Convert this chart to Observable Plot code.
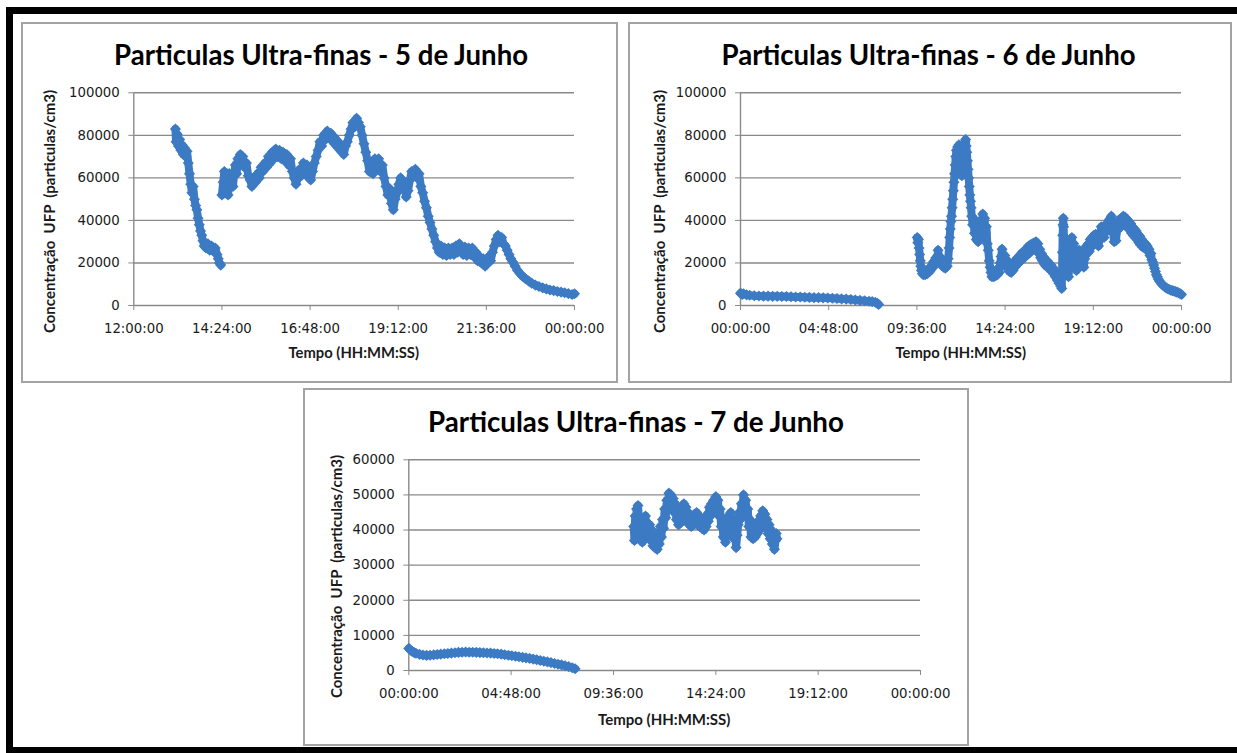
<!DOCTYPE html>
<html>
<head>
<meta charset="utf-8">
<script src="https://cdn.jsdelivr.net/npm/d3@7"></script>
<script src="https://cdn.jsdelivr.net/npm/@observablehq/plot@0.6"></script>
<style>
  html, body { margin: 0; padding: 0; background: #fff; }
  #page { position: relative; width: 1237px; height: 753px; overflow: hidden; background: #fff; }
  .band { position: absolute; background: #000; }
  .panel { position: absolute; box-sizing: border-box; border: 2px solid #a3a3a3; background: #fff; }
  .lbl { position: absolute; left: 0; top: 0; white-space: pre; font-weight: bold; color: #000; line-height: 1; }
  .title { font-family: "Lato", "Open Sans", sans-serif; }
  .axt { font-family: "Lato", "Open Sans", sans-serif; color: #1a1a1a; }
</style>
</head>
<body>
<div id="page"></div>
<script>
// ---------- data ----------
const blue = "#3c7bc4";
const xTicksAfternoon = ["12:00:00", "14:24:00", "16:48:00", "19:12:00", "21:36:00", "00:00:00"];
const xTicksDay = ["00:00:00", "04:48:00", "09:36:00", "14:24:00", "19:12:00", "00:00:00"];
const yTicks100k = [0, 20000, 40000, 60000, 80000, 100000];
const yTicks60k = [0, 10000, 20000, 30000, 40000, 50000, 60000];
const titles = ["Particulas Ultra-finas - 5 de Junho", "Particulas Ultra-finas - 6 de Junho", "Particulas Ultra-finas - 7 de Junho"];
const xTitle = "Tempo (HH:MM:SS)";
const yTitle = "Concentração  UFP  (particulas/cm3)";

// 5 June: [time, UFP concentration], two recording runs
const jun5_run1 = [
["13:08",83000],["13:09",77000],["13:11",80500],["13:13",75000],["13:15",78000],["13:17",73000],["13:19",75500],["13:21",71000],
["13:23",74000],["13:25",70000],["13:27",72500],["13:29",67000],["13:31",62000],["13:33",57000],["13:35",53000],["13:37",56000],
["13:39",50000],["13:41",47000],["13:43",45000],["13:45",41000],["13:47",38000],["13:49",35000],["13:51",33000],["13:53",30500],
["13:55",28000],["13:58",27000],["14:01",29000],["14:04",26000],["14:07",28000],["14:10",25500],["14:13",27000],["14:16",24000],
["14:18",22000],["14:20",20000],["14:22",19000]
];
const jun5_run2 = [
["14:24",52000],["14:26",58000],["14:28",63000],["14:30",54000],["14:32",60000],["14:34",52000],["14:36",62000],["14:38",56000],
["14:40",60000],["14:42",56000],["14:44",62000],["14:46",66000],["14:48",62000],["14:50",69000],["14:52",66000],["14:54",71000],
["14:56",67000],["14:58",70000],["15:01",65000],["15:04",67000],["15:07",61000],["15:10",59000],["15:13",56000],["15:16",60000],
["15:19",58000],["15:22",62000],["15:25",60000],["15:28",65000],["15:31",63000],["15:34",67000],["15:37",65000],["15:40",70000],
["15:43",67000],["15:46",72000],["15:49",69000],["15:52",73500],["15:55",70000],["15:58",73000],["16:01",69000],["16:04",72000],
["16:07",68000],["16:10",71000],["16:13",66000],["16:16",69000],["16:19",63000],["16:22",60000],["16:25",57000],["16:28",60000],
["16:31",64000],["16:34",61000],["16:37",67000],["16:40",64000],["16:43",66000],["16:46",60000],["16:49",59000],["16:52",63000],
["16:55",67000],["16:58",70000],["17:01",73000],["17:04",77000],["17:07",75000],["17:10",80000],["17:13",78000],["17:16",82000],
["17:19",79000],["17:22",81000],["17:25",77000],["17:28",79000],["17:31",75000],["17:34",77000],["17:37",73000],["17:40",75000],
["17:43",71000],["17:46",75000],["17:49",77000],["17:52",80000],["17:55",83000],["17:58",86000],["18:01",84000],["18:04",88000],
["18:07",86000],["18:10",84000],["18:13",80000],["18:16",76000],["18:19",72000],["18:22",68000],["18:25",63000],["18:28",66000],
["18:31",62000],["18:34",69000],["18:37",66000],["18:40",69000],["18:43",63000],["18:46",66000],["18:49",60000],["18:52",56000],
["18:55",52000],["18:58",55000],["19:01",48000],["19:04",45000],["19:07",50000],["19:10",53000],["19:13",57000],["19:16",60000],
["19:19",55000],["19:22",58000],["19:25",51000],["19:28",54000],["19:31",59000],["19:34",63000],["19:37",61000],["19:40",64000],
["19:43",60000],["19:46",62000],["19:49",56000],["19:52",53000],["19:55",49000],["19:58",46000],["20:01",42000],["20:04",39000],
["20:07",36000],["20:10",33000],["20:13",30000],["20:16",27000],["20:19",25000],["20:22",28000],["20:25",24000],["20:28",27000],
["20:31",23500],["20:34",27000],["20:37",24000],["20:40",27000],["20:43",24000],["20:46",28000],["20:49",25000],["20:52",29000],
["20:55",26000],["20:58",24000],["21:01",27500],["21:04",23500],["21:07",27000],["21:10",24000],["21:13",27000],["21:16",23000],
["21:19",25000],["21:22",21000],["21:25",23000],["21:28",20000],["21:31",22000],["21:34",18500],["21:37",20000],["21:40",23000],
["21:43",21000],["21:46",25000],["21:49",28000],["21:52",31000],["21:55",33000],["21:58",30000],["22:01",32000],["22:04",29000],
["22:07",28000],["22:10",26000],["22:13",24000],["22:16",22000],["22:19",20500],["22:23",18500],["22:27",16500],["22:31",15000],
["22:35",13800],["22:40",12600],["22:45",11500],["22:50",10500],["22:56",9600],["23:02",8900],["23:08",8300],["23:14",7800],
["23:20",7300],["23:26",7000],["23:32",6600],["23:38",6300],["23:44",6000],["23:50",5600],["23:56",5200],["24:00",5500]
];

// 6 June
const jun6_run1 = [
["00:00",5800],["00:05",5200],["00:10",5500],["00:20",5000],["00:30",4800],["00:45",4600],["01:00",4500],["01:15",4400],
["01:30",4400],["01:45",4300],["02:00",4300],["02:15",4200],["02:30",4200],["02:45",4100],["03:00",4000],["03:15",4000],
["03:30",3900],["03:45",3800],["04:00",3700],["04:15",3700],["04:30",3600],["04:45",3500],["05:00",3400],["05:15",3300],
["05:30",3100],["05:45",3000],["06:00",2800],["06:15",2600],["06:30",2400],["06:45",2200],["07:00",2000],["07:10",1800],
["07:20",1500],["07:27",1000],["07:31",500]
];
const jun6_run2 = [
["09:37",32000],["09:39",29500],["09:41",31000],["09:43",27000],["09:45",24000],["09:47",21000],["09:49",18500],["09:51",16500],
["09:54",15000],["09:57",14500],["10:00",16000],["10:03",14500],["10:06",15500],["10:10",15000],["10:14",17000],["10:18",16000],
["10:22",18500],["10:26",17500],["10:30",20500],["10:34",19000],["10:38",22500],["10:42",21000],["10:45",26000],["10:48",23000],
["10:51",20000],["10:54",22500],["10:57",19000],["11:00",21000],["11:03",18000],["11:06",19500],["11:09",17500],["11:12",20500],
["11:15",18500],["11:18",22000],["11:21",27000],["11:23",32000],["11:25",36000],["11:27",39500],["11:29",42000],["11:31",46000],
["11:33",50000],["11:35",54000],["11:37",58000],["11:39",62000],["11:41",66000],["11:43",70000],["11:45",73000],["11:47",69000],
["11:49",74500],["11:51",71000],["11:53",75500],["11:55",68000],["11:57",73000],["11:59",64000],["12:01",70000],["12:03",61000],
["12:05",74000],["12:07",67000],["12:09",76000],["12:11",71000],["12:13",77000],["12:15",78000],["12:17",75000],["12:19",72000],
["12:21",68000],["12:23",64000],["12:25",60000],["12:27",56000],["12:29",52000],["12:31",49000],["12:33",46000],["12:35",42000],
["12:38",38000],["12:41",41000],["12:44",34000],["12:47",38000],["12:50",31000],["12:53",36000],["12:56",30000],["12:59",35000],
["13:02",31000],["13:05",40000],["13:08",36000],["13:11",43000],["13:14",38000],["13:17",41000],["13:20",34000],["13:23",37000],
["13:26",29000],["13:29",26000],["13:32",21000],["13:35",18000],["13:38",15500],["13:41",13500],["13:44",15500],["13:47",13500],
["13:50",16000],["13:53",14000],["13:56",16500],["13:59",14500],["14:02",17500],["14:05",15500],["14:08",20000],["14:11",23000],
["14:14",26500],["14:17",24000],["14:20",21000],["14:23",23500],["14:26",19500],["14:29",21500],["14:32",17500],["14:35",19500],
["14:38",16000],["14:41",18000],["14:44",15500],["14:47",18500],["14:50",16500],["14:53",20000],["14:56",18000],["14:59",21500],
["15:02",19000],["15:05",22500],["15:08",20000],["15:11",23000],["15:14",21000],["15:17",24500],["15:20",21500],["15:23",25000],
["15:26",22500],["15:29",26000],["15:32",23500],["15:35",27000],["15:38",24000],["15:41",28000],["15:44",25000],["15:47",28500],
["15:50",25500],["15:53",29000],["15:56",26500],["15:59",29500],["16:02",27000],["16:05",30000],["16:08",27000],["16:11",29000],
["16:14",24500],["16:17",26500],["16:20",22500],["16:23",24500],["16:26",21000],["16:29",23000],["16:32",19500],["16:35",21500],
["16:38",18500],["16:41",21000],["16:44",18000],["16:47",20000],["16:50",17000],["16:53",19000],["16:56",16000],["16:59",18000],
["17:02",15000],["17:05",16500],["17:08",13500],["17:11",15000],["17:14",12000],["17:17",13500],["17:20",10500],["17:23",12000],
["17:26",9000],["17:29",8000],["17:31",25000],["17:32",33000],["17:33",38000],["17:34",41000],["17:35",37000],["17:37",30000],
["17:39",25000],["17:41",29000],["17:43",21000],["17:45",24000],["17:47",15000],["17:49",19000],["17:51",13500],["17:53",22000],
["17:55",28000],["17:57",31000],["17:59",24000],["18:02",32000],["18:05",25000],["18:08",29000],["18:11",20500],["18:14",24000],
["18:17",16500],["18:20",20000],["18:23",23000],["18:26",26000],["18:29",22000],["18:32",25500],["18:35",20000],["18:38",23500],
["18:41",18000],["18:44",22000],["18:47",25000],["18:50",28000],["18:53",24500],["18:56",29000],["18:59",25500],["19:02",31000],
["19:05",27500],["19:08",32000],["19:11",28500],["19:14",33000],["19:17",29500],["19:20",33500],["19:23",30000],["19:26",32500],
["19:29",28000],["19:32",31000],["19:35",33500],["19:38",37000],["19:41",34000],["19:44",36500],["19:47",32000],["19:50",35000],
["19:53",38000],["19:56",35000],["19:59",39000],["20:02",36000],["20:05",40500],["20:08",37000],["20:11",42000],["20:14",38000],
["20:17",34000],["20:20",30000],["20:23",33500],["20:26",30500],["20:29",35000],["20:32",38500],["20:35",36000],["20:38",40500],
["20:41",37000],["20:44",41000],["20:47",38000],["20:50",42000],["20:53",38500],["20:56",41500],["20:59",37500],["21:02",40500],
["21:05",36500],["21:08",39500],["21:11",35500],["21:14",38500],["21:17",34000],["21:20",37000],["21:23",33000],["21:26",36000],
["21:29",32000],["21:32",35000],["21:35",31000],["21:38",33500],["21:41",29500],["21:44",32500],["21:47",28500],["21:50",31000],
["21:53",27500],["21:56",30000],["21:59",27000],["22:02",29000],["22:05",26500],["22:08",28000],["22:11",25500],["22:14",26500],
["22:17",23500],["22:20",24500],["22:23",21500],["22:26",20500],["22:29",19000],["22:32",17500],["22:35",16000],["22:38",14500],
["22:41",13500],["22:44",12500],["22:48",11500],["22:52",10800],["22:56",10000],["23:00",9400],["23:05",8800],["23:10",8300],
["23:15",7900],["23:20",7500],["23:25",7200],["23:30",7000],["23:35",6800],["23:40",6500],["23:45",6300],["23:50",6000],
["23:55",5600],["24:00",5200]
];

// 7 June
const jun7_run1 = [
["00:00",6300],["00:05",5800],["00:10",5400],["00:15",5100],["00:20",4900],["00:30",4600],["00:40",4400],["00:50",4300],
["01:00",4350],["01:10",4450],["01:20",4550],["01:30",4650],["01:40",4750],["01:50",4850],["02:00",4950],["02:10",5050],
["02:20",5150],["02:30",5200],["02:40",5250],["02:50",5200],["03:00",5200],["03:10",5150],["03:20",5100],["03:30",5050],
["03:40",5000],["03:50",4950],["04:00",4850],["04:10",4750],["04:20",4650],["04:30",4500],["04:40",4350],["04:50",4200],
["05:00",4050],["05:10",3900],["05:20",3750],["05:30",3600],["05:40",3450],["05:50",3250],["06:00",3050],["06:10",2850],
["06:20",2650],["06:30",2450],["06:40",2250],["06:50",2000],["07:00",1800],["07:10",1600],["07:20",1350],["07:30",1100],
["07:40",800],["07:48",500]
];
const jun7_run2 = [
["10:33",41000],["10:35",37000],["10:37",44000],["10:39",39000],["10:41",46000],["10:43",42000],["10:45",47000],["10:47",44000],
["10:49",40000],["10:51",43000],["10:53",37500],["10:55",40000],["10:57",36500],["11:00",43000],["11:03",39500],["11:06",44000],
["11:09",39000],["11:12",42000],["11:15",38000],["11:18",41500],["11:21",37000],["11:24",40000],["11:27",35500],["11:30",38500],
["11:33",35000],["11:36",37500],["11:39",34500],["11:42",38500],["11:45",36000],["11:48",41000],["11:51",38000],["11:54",43000],
["11:57",40500],["12:00",46000],["12:03",43500],["12:06",48500],["12:09",46500],["12:12",50500],["12:15",48000],["12:18",50000],
["12:21",46500],["12:24",49000],["12:27",45000],["12:30",47500],["12:33",43000],["12:36",45500],["12:39",41500],["12:42",44000],
["12:45",42000],["12:48",46000],["12:51",44000],["12:54",47500],["12:57",44500],["13:00",46500],["13:03",42500],["13:06",45000],
["13:09",41500],["13:12",44000],["13:15",41000],["13:18",43500],["13:21",41500],["13:24",44500],["13:27",42000],["13:30",45000],
["13:33",41500],["13:36",44000],["13:39",41000],["13:42",43500],["13:45",40500],["13:48",43000],["13:51",40000],["13:54",42500],
["13:57",41000],["14:00",44500],["14:03",42500],["14:06",46500],["14:09",44000],["14:12",47500],["14:15",45000],["14:18",48500],
["14:21",46000],["14:24",49500],["14:27",46500],["14:30",48500],["14:33",44000],["14:36",46000],["14:39",41000],["14:42",43500],
["14:45",38000],["14:48",41000],["14:51",36500],["14:54",40000],["14:57",38500],["15:00",44000],["15:03",41000],["15:06",45000],
["15:09",40500],["15:12",43000],["15:15",37500],["15:18",40000],["15:21",35000],["15:24",38500],["15:27",41500],["15:30",45000],
["15:33",43000],["15:36",47500],["15:39",46000],["15:42",50000],["15:45",47000],["15:48",48500],["15:51",44000],["15:54",46000],
["15:57",41000],["16:00",43000],["16:03",38000],["16:06",41000],["16:09",37500],["16:12",40500],["16:15",38000],["16:18",42000],
["16:21",39000],["16:24",42500],["16:27",40000],["16:30",44000],["16:33",41500],["16:36",45500],["16:39",42500],["16:42",44500],
["16:45",40500],["16:48",43000],["16:51",39000],["16:54",41500],["16:57",37500],["17:00",40000],["17:03",36000],["17:06",38500],
["17:09",34500],["17:12",37000],["17:14",39000],["17:16",37500]
];

// ---------- helpers ----------
function hours(s) { const p = s.split(":").map(Number); return p[0] + p[1] / 60 + (p[2] || 0) / 3600; }
function tickPositions(labels) {
  const out = [];
  labels.forEach(l => { let h = hours(l); if (out.length && h <= out[out.length - 1]) h += 24; out.push(h); });
  return out;
}
const page = document.getElementById("page");
function box(cls, l, t, w, h) {
  const d = document.createElement("div");
  d.className = cls;
  Object.assign(d.style, { left: l + "px", top: t + "px", width: w + "px", height: h + "px" });
  page.appendChild(d);
  return d;
}
// text centred at (cx, cy), scaled to a target length, optionally rotated
function label(text, cls, cx, cy, targetLen, baseSize, rotate) {
  const s = document.createElement("div");
  s.className = "lbl " + cls;
  s.textContent = text;
  s.style.fontSize = baseSize + "px";
  page.appendChild(s);
  const w = s.offsetWidth;
  s.style.fontSize = (baseSize * targetLen / w) + "px";
  const w2 = s.offsetWidth, h2 = s.offsetHeight;
  s.style.left = (cx - w2 / 2) + "px";
  s.style.top = (cy - h2 / 2) + "px";
  if (rotate) s.style.transform = "rotate(-90deg)";
  return s;
}

function chart(cfg) {
  const data = cfg.runs.flatMap((run, k) => run.map(([t, v]) => ({ t: hours(t), v, run: k })));
  const xt = tickPositions(cfg.xLabels);
  const lab = new Map(xt.map((p, i) => [p, cfg.xLabels[i]]));
  const grey = "#8a8a8a";
  const font = { fontFamily: "DejaVu Sans", fontSize: 13.3 };
  const svg = Plot.plot({
    width: cfg.width, height: cfg.height,
    marginLeft: cfg.ml, marginRight: cfg.mr, marginTop: cfg.mt, marginBottom: cfg.mb,
    x: { domain: [xt[0], xt[xt.length - 1]], axis: null },
    y: { domain: [0, cfg.yTicks[cfg.yTicks.length - 1]], axis: null },
    style: { background: "transparent", overflow: "visible" },
    marks: [
      Plot.gridY(cfg.yTicks, { stroke: grey, strokeOpacity: 1, strokeWidth: 1.4 }),
      Plot.ruleX([xt[0]], { stroke: grey, strokeWidth: 1.4 }),
      Plot.axisY(cfg.yTicks, { ...font, tickSize: 5, tickPadding: 9, stroke: grey, fill: "#1a1a1a", tickFormat: d => String(d), label: null }),
      Plot.axisX(xt, { ...font, tickSize: 5, tickPadding: 13, stroke: grey, fill: "#1a1a1a", tickFormat: d => lab.get(d), label: null }),
      // dense sampling between readings drawn as a thick trace beneath the markers
      Plot.line(data, { x: "t", y: "v", z: "run", stroke: blue, strokeWidth: 8, strokeLinejoin: "round", strokeLinecap: "round" }),
      Plot.dot(data, { x: "t", y: "v", symbol: "diamond2", r: 5, fill: blue, stroke: null })
    ]
  });
  Object.assign(svg.style, { left: cfg.left + "px", top: cfg.top + "px", position: "absolute" });
  page.appendChild(svg);
}

// ---------- frame ----------
box("band", 6, 7, 1231, 7);
box("band", 6, 7, 7, 746);
box("band", 6, 747, 1231, 6);
box("panel", 21, 22, 597, 361);
box("panel", 628, 22, 604, 361);
box("panel", 303, 388, 666, 358);

// ---------- charts ----------
chart({ runs: [jun5_run1, jun5_run2], xLabels: xTicksAfternoon, yTicks: yTicks100k,
  left: 23, top: 75, width: 594, height: 275, ml: 110.3, mr: 43, mt: 17.3, mb: 45 });
chart({ runs: [jun6_run1, jun6_run2], xLabels: xTicksDay, yTicks: yTicks100k,
  left: 629, top: 75, width: 601, height: 275, ml: 111, mr: 49, mt: 17.3, mb: 45 });
chart({ runs: [jun7_run1, jun7_run2], xLabels: xTicksDay, yTicks: yTicks60k,
  left: 305, top: 440, width: 662, height: 265, ml: 103.3, mr: 47, mt: 19.3, mb: 35 });

// ---------- texts ----------
label(titles[0], "title", 321, 55, 414, 24);
label(titles[1], "title", 928.5, 55, 414, 24);
label(titles[2], "title", 636, 421.5, 416, 24);
label(xTitle, "axt", 354, 352, 131, 14);
label(xTitle, "axt", 961, 352, 131, 14);
label(xTitle, "axt", 664, 719, 133, 14);
label(yTitle, "axt", 49, 211.5, 243, 14, true);
label(yTitle, "axt", 659, 211.5, 243, 14, true);
label(yTitle, "axt", 336, 576.5, 243, 14, true);
</script>
</body>
</html>
